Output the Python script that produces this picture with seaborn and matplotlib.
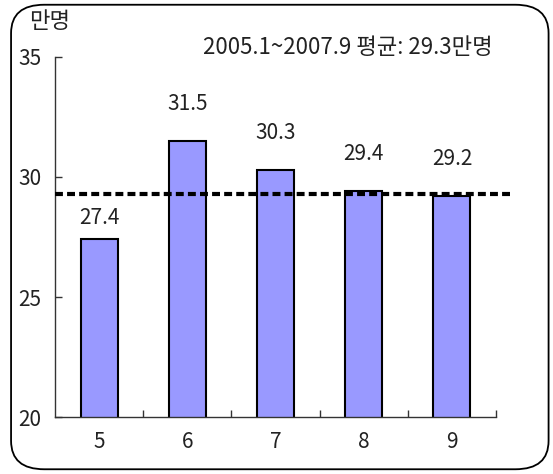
import matplotlib
matplotlib.use("Agg")
import matplotlib.pyplot as plt
from matplotlib.patches import FancyBboxPatch
from matplotlib.ticker import FixedLocator
import seaborn as sns
import pandas as pd

months = ["5", "6", "7", "8", "9"]
visitors = [27.4, 31.5, 30.3, 29.4, 29.2]
average = 29.3
y_ticks = [20, 25, 30, 35]
unit_label = "만명"
avg_label = "2005.1~2007.9 평균: 29.3만명"

sns.set_theme(style="white")
plt.rcParams["font.family"] = ["Noto Sans CJK KR", "DejaVu Sans"]

df = pd.DataFrame({"month": months, "value": visitors})

fig = plt.figure(figsize=(5.53, 4.74), dpi=100)
ax = fig.add_axes([0.0995, 0.12, 0.7975, 0.76])

sns.barplot(data=df, x="month", y="value", color="#9999FF", saturation=1,
            edgecolor="black", linewidth=1.5, width=0.42, ax=ax)

ax.axhline(average, color="black", linestyle=(0, (1.9, 1.0)), linewidth=3, zorder=5,
           xmin=0, xmax=1.035, clip_on=False)

# value labels; the first one sits below the average line
label_gap = [0.9, 1.55, 1.55, 1.55, 1.55]
for i, v in enumerate(visitors):
    ax.text(i, v + label_gap[i], f"{v:.1f}", ha="center", va="center",
            fontsize=15, color="#222222")

ax.set_ylim(20, 35)
ax.set_xlim(-0.5, 4.5)
ax.set_yticks(y_ticks)
ax.set_xlabel("")
ax.set_ylabel("")

for side in ["top", "right"]:
    ax.spines[side].set_visible(False)
for side in ["left", "bottom"]:
    ax.spines[side].set_color("#333333")
    ax.spines[side].set_linewidth(1.0)

ax.xaxis.set_minor_locator(FixedLocator([0.5, 1.5, 2.5, 3.5, 4.5]))
ax.tick_params(axis="x", which="major", length=0, pad=10, labelsize=15)
ax.tick_params(axis="x", which="minor", direction="in", length=5, width=1, color="#333333", bottom=True)
ax.tick_params(axis="y", direction="in", length=5, width=1, color="#333333", left=True, pad=10, labelsize=15)
for lab in ax.get_xticklabels() + ax.get_yticklabels():
    lab.set_color("#222222")

fig.text(0.052, 0.955, unit_label, fontsize=16, ha="left", va="center", color="#222222")
fig.text(0.367, 0.9, avg_label, fontsize=16, ha="left", va="center", color="#222222")

border = FancyBboxPatch((0.02, 0.01), 0.972, 0.98, boxstyle="round,pad=0,rounding_size=0.06",
                        transform=fig.transFigure, fill=False, edgecolor="black", linewidth=1.3)
fig.patches.append(border)

fig.savefig("out.png", dpi=100)
